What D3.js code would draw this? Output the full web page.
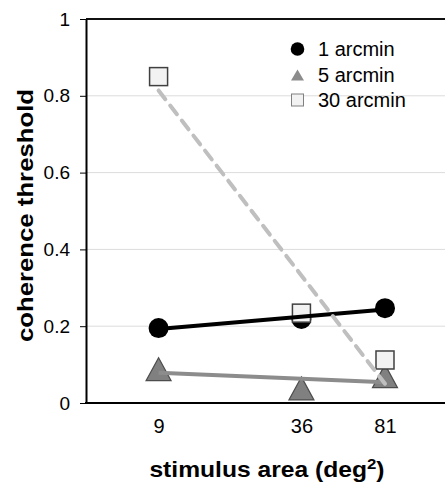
<!DOCTYPE html>
<html>
<head>
<meta charset="utf-8">
<script src="https://cdn.jsdelivr.net/npm/d3@7"></script>
<style>
  html, body { margin: 0; padding: 0; background: #fff; }
  svg { display: block; font-family: "Liberation Sans", Arial, sans-serif; }
</style>
</head>
<body>
<div id="chart"></div>
<script>
// ---- data ----
const areas = [9, 36, 81];
const arcmin1 = [0.195, 0.219, 0.247];
const arcmin5 = [0.088, 0.038, 0.070];
const arcmin30 = [0.850, 0.234, 0.112];
const seriesNames = ["1 arcmin", "5 arcmin", "30 arcmin"];
const yTicks = [0, 0.2, 0.4, 0.6, 0.8, 1];
const xTicks = [9, 36, 81];
const xTitle = "stimulus area (deg";
const yTitle = "coherence threshold";

const W = 445, H = 483;
const mLeft = 86, mTop = 19, mBottom = 403, mRight = 445;

const svg = d3.select("#chart").append("svg").attr("width", W).attr("height", H);

const x = d3.scaleLog().domain([4.45, 145]).range([mLeft, mRight]);
const y = d3.scaleLinear().domain([0, 1]).range([mBottom, mTop]);

// gridlines
svg.append("g").selectAll("line").data(yTicks.filter(d => d > 0 && d < 1)).join("line")
  .attr("x1", mLeft).attr("x2", mRight)
  .attr("y1", d => y(d)).attr("y2", d => y(d))
  .attr("stroke", "#dcdcdc").attr("stroke-width", 1);

// top border
svg.append("line").attr("x1", mLeft).attr("x2", mRight).attr("y1", y(1)).attr("y2", y(1))
  .attr("stroke", "#111").attr("stroke-width", 2);

// y axis
const yAxis = svg.append("g").attr("transform", `translate(${mLeft},0)`)
  .call(d3.axisLeft(y).tickValues(yTicks).tickFormat(d => d === 0 || d === 1 ? d3.format("d")(d) : d3.format(".1f")(d))
    .tickSize(6).tickSizeOuter(0).tickPadding(10));
yAxis.select(".domain").attr("stroke", "#000").attr("stroke-width", 2);
yAxis.selectAll(".tick line").attr("stroke", "#000").attr("stroke-width", 1);
yAxis.selectAll("text").attr("font-size", 19).attr("fill", "#000")
  .attr("font-family", '"Liberation Sans", Arial, sans-serif');

// x axis
const xAxis = svg.append("g").attr("transform", `translate(0,${mBottom})`)
  .call(d3.axisBottom(x).tickValues(xTicks).tickFormat(d3.format("d")).tickSize(0).tickPadding(16));
xAxis.select(".domain").remove();
xAxis.selectAll("text").attr("font-size", 20).attr("fill", "#000")
  .attr("font-family", '"Liberation Sans", Arial, sans-serif');
svg.append("line").attr("x1", mLeft - 1).attr("x2", mRight).attr("y1", mBottom).attr("y2", mBottom)
  .attr("stroke", "#000").attr("stroke-width", 2);

// markers
const pts = (vals) => areas.map((a, i) => ({ a, v: vals[i] }));
const triPath = (w, h) => `M0,${-h / 2}L${w / 2},${h / 2}L${-w / 2},${h / 2}Z`;

svg.append("g").selectAll("circle").data(pts(arcmin1)).join("circle")
  .attr("cx", d => x(d.a)).attr("cy", d => y(d.v)).attr("r", 10).attr("fill", "#000");

svg.append("g").selectAll("path").data(pts(arcmin5)).join("path")
  .attr("transform", d => `translate(${x(d.a)},${y(d.v)})`)
  .attr("d", triPath(25, 23)).attr("fill", "#808080").attr("stroke", "#4d4d4d").attr("stroke-width", 1.2);

svg.append("g").selectAll("rect").data(pts(arcmin30)).join("rect")
  .attr("x", d => x(d.a) - 9).attr("y", d => y(d.v) - 9).attr("width", 18).attr("height", 18)
  .attr("fill", "#f2f2f2").attr("stroke", "#404040").attr("stroke-width", 1.5);

// trend lines (least squares in log x)
function trend(vals) {
  const lx = areas.map(a => Math.log10(a));
  const mx = d3.mean(lx), my = d3.mean(vals);
  const sxy = d3.sum(lx.map((v, i) => (v - mx) * (vals[i] - my)));
  const sxx = d3.sum(lx.map(v => (v - mx) ** 2));
  const b = sxy / sxx;
  const ends = [areas[0], areas[areas.length - 1]];
  return ends.map(a => ({ a, v: my + b * (Math.log10(a) - mx) }));
}
const line = d3.line().x(d => x(d.a)).y(d => y(d.v));
svg.append("path").attr("d", line(trend(arcmin1))).attr("stroke", "#000").attr("stroke-width", 4).attr("fill", "none");
svg.append("path").attr("d", line(trend(arcmin5))).attr("stroke", "#8c8c8c").attr("stroke-width", 4).attr("fill", "none");
svg.append("path").attr("d", line(trend(arcmin30))).attr("stroke", "#bfbfbf").attr("stroke-width", 4)
  .attr("fill", "none").attr("stroke-dasharray", "11,8").attr("stroke-linecap", "round");

// legend
const lg = svg.append("g");
const legX = 297.5, legY = [49, 75, 100];
lg.append("circle").attr("cx", legX).attr("cy", legY[0]).attr("r", 6.8).attr("fill", "#000");
lg.append("path").attr("transform", `translate(${legX},${legY[1]})`).attr("d", triPath(13, 11)).attr("fill", "#8c8c8c");
lg.append("rect").attr("x", legX - 6).attr("y", legY[2] - 6).attr("width", 12).attr("height", 12)
  .attr("fill", "#f2f2f2").attr("stroke", "#808080").attr("stroke-width", 1);
lg.selectAll("text").data(seriesNames).join("text")
  .attr("x", 318).attr("y", (d, i) => legY[i]).attr("dy", "0.35em")
  .attr("font-size", 20).attr("fill", "#000").text(d => d);

// axis titles
const xt = svg.append("text").attr("transform", "translate(267,477) scale(1.12,1)")
  .attr("text-anchor", "middle").attr("font-size", 22).attr("font-weight", "bold").attr("fill", "#000");
xt.append("tspan").text(xTitle);
xt.append("tspan").attr("font-size", 15).attr("dy", -8).text("2");
xt.append("tspan").attr("dy", 8).text(")");

svg.append("text").attr("transform", "translate(33,215.5) rotate(-90) scale(1.17,1)")
  .attr("text-anchor", "middle").attr("font-size", 22).attr("font-weight", "bold").attr("fill", "#000")
  .text(yTitle);
</script>
</body>
</html>
